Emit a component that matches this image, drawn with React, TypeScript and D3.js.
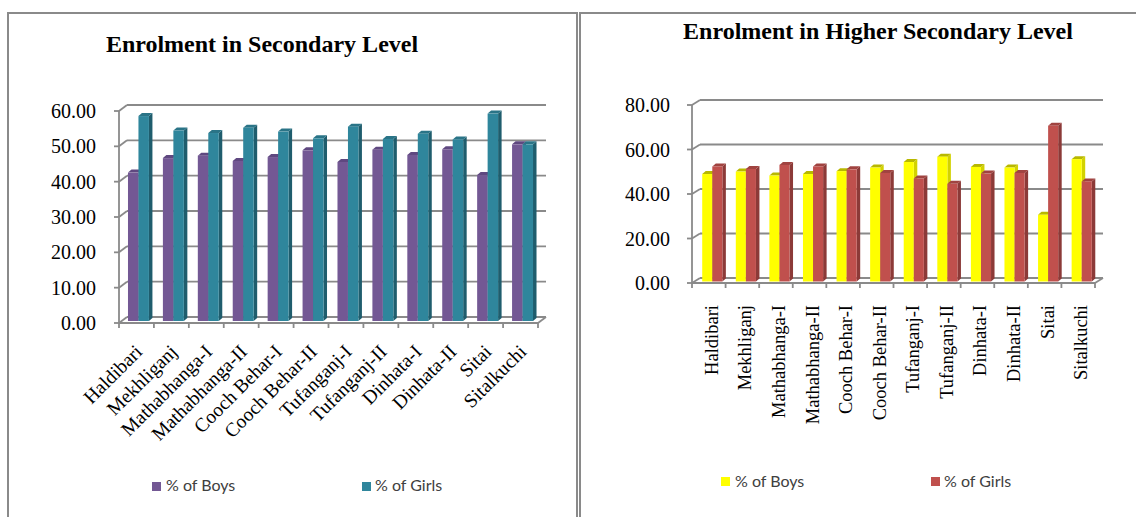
import React from "react";
import * as d3 from "d3";

const categories = [
  "Haldibari", "Mekhliganj", "Mathabhanga-I", "Mathabhanga-II", "Cooch Behar-I", "Cooch Behar-II",
  "Tufanganj-I", "Tufanganj-II", "Dinhata-I", "Dinhata-II", "Sitai", "Sitalkuchi",
];
const secondaryBoys = [42.0, 46.1, 46.8, 45.3, 46.4, 48.3, 45.0, 48.5, 47.0, 48.6, 41.3, 50.0];
const secondaryGirls = [58.0, 53.9, 53.2, 54.7, 53.6, 51.7, 55.0, 51.5, 53.0, 51.4, 58.7, 50.0];
const higherBoys = [48.3, 49.4, 47.6, 48.3, 49.6, 51.2, 53.7, 56.1, 51.5, 51.2, 30.0, 55.0];
const higherGirls = [51.7, 50.6, 52.4, 51.7, 50.4, 48.8, 46.3, 43.9, 48.5, 48.8, 70.0, 45.0];
const secondaryTicks = [0, 10, 20, 30, 40, 50, 60];
const higherTicks = [0, 20, 40, 60, 80];
const seriesNames = ["% of Boys", "% of Girls"];
const secondaryTitle = "Enrolment in Secondary Level";
const higherTitle = "Enrolment in Higher Secondary Level";

type Face = { front: string; side: string; top: string };

type Cfg = {
  x0: number; x1: number; yb0: number; ybTop: number; max: number; dx: number; dy: number;
  barShift: number; labelRight: number; titleX: number; titleY: number;
  rotate: number; labelDx: number; labelY: number; labelSize: number;
  legend: { sq: number[]; tx: number[]; sqY: number; txY: number };
};

const GRID = "#8a8a8a";
const SERIF = "'Liberation Serif', 'Times New Roman', serif";
const SANS = "Lato, 'Liberation Sans', sans-serif";

function Bar({ x, w, t, b, c }: { x: number; w: number; t: number; b: number; c: Face }) {
  const bx = 3.5, by = -3;
  return (
    <g>
      <polygon points={`${x + w},${t} ${x + w + bx},${t + by} ${x + w + bx},${b + by} ${x + w},${b}`} fill={c.side} />
      <polygon points={`${x},${t} ${x + bx},${t + by} ${x + w + bx},${t + by} ${x + w},${t}`} fill={c.top} />
      <rect x={x} y={t} width={w} height={Math.max(0, b - t)} fill={c.front} />
    </g>
  );
}

function Chart3D({ cfg, boys, girls, ticks, title, faces }: {
  cfg: Cfg; boys: number[]; girls: number[]; ticks: number[]; title: string; faces: Face[];
}) {
  const x = d3.scaleBand<string>().domain(categories).range([cfg.x0, cfg.x1]).paddingInner(0).paddingOuter(0);
  const yB = d3.scaleLinear().domain([0, cfg.max]).range([cfg.yb0, cfg.ybTop]);
  const yF = (v: number) => yB(v) + cfg.dy;
  const bw = x.bandwidth();
  const barW = bw * 0.3;
  const barBase = yB(0) + cfg.dy / 2 + 1;
  const barY = (v: number) => yB(v) + cfg.dy / 2 + 1;
  const fmt = d3.format(".2f");
  return (
    <g>
      <text x={cfg.titleX} y={cfg.titleY} textAnchor="middle" fontFamily={SERIF} fontWeight="bold" fontSize={24} fill="#000">{title}</text>
      {ticks.map((v) => (
        <g key={"g" + v}>
          <line x1={cfg.x0} y1={yF(v)} x2={cfg.x0 + cfg.dx} y2={yB(v)} stroke={GRID} strokeWidth={1.8} />
          <line x1={cfg.x0 + cfg.dx} y1={yB(v)} x2={cfg.x1 + cfg.dx} y2={yB(v)} stroke={GRID} strokeWidth={1.8} />
          <line x1={cfg.x0 - 5} y1={yF(v)} x2={cfg.x0} y2={yF(v)} stroke={GRID} strokeWidth={1.8} />
          <text x={cfg.labelRight} y={yF(v)} dy="0.35em" textAnchor="end" fontFamily={SERIF} fontSize={20} fill="#000">{fmt(v)}</text>
        </g>
      ))}
      <line x1={cfg.x0} y1={yF(0)} x2={cfg.x0} y2={yF(cfg.max)} stroke={GRID} strokeWidth={1.8} />
      <line x1={cfg.x0} y1={yF(0)} x2={cfg.x1} y2={yF(0)} stroke={GRID} strokeWidth={1.8} />
      <line x1={cfg.x1} y1={yF(0)} x2={cfg.x1 + cfg.dx} y2={yB(0)} stroke={GRID} strokeWidth={1.8} />
      {d3.range(categories.length + 1).map((i) => (
        <line key={"t" + i} x1={cfg.x0 + i * bw} y1={yF(0)} x2={cfg.x0 + i * bw} y2={yF(0) + 5} stroke={GRID} strokeWidth={1.8} />
      ))}
      {categories.map((c, i) => {
        const cx = (x(c) as number) + bw / 2 + cfg.barShift;
        return (
          <g key={"b" + c}>
            <Bar x={cx - barW} w={barW} t={barY(boys[i])} b={barBase} c={faces[0]} />
            <Bar x={cx} w={barW} t={barY(girls[i])} b={barBase} c={faces[1]} />
          </g>
        );
      })}
      {categories.map((c) => {
        const ax = (x(c) as number) + bw / 2 + cfg.labelDx;
        return (
          <text key={"l" + c} x={ax} y={cfg.labelY} transform={`rotate(${cfg.rotate},${ax},${cfg.labelY})`}
            textAnchor="end" fontFamily={SERIF} fontSize={cfg.labelSize} fill="#000">{c}</text>
        );
      })}
      {seriesNames.map((s, i) => (
        <g key={"lg" + s}>
          <rect x={cfg.legend.sq[i]} y={cfg.legend.sqY} width={9} height={9} fill={faces[i].front} />
          <text x={cfg.legend.tx[i]} y={cfg.legend.txY} fontFamily={SANS} fontSize={16} fill="#404040">{s}</text>
        </g>
      ))}
    </g>
  );
}

const leftCfg: Cfg = {
  x0: 119, x1: 538, yb0: 317, ybTop: 105, max: 60, dx: 8, dy: 6, barShift: 2,
  labelRight: 96, titleX: 262, titleY: 52, rotate: -45, labelDx: 7, labelY: 353, labelSize: 19.5,
  legend: { sq: [152, 362], tx: [166, 375], sqY: 482, txY: 491 },
};
const rightCfg: Cfg = {
  x0: 692, x1: 1095, yb0: 278, ybTop: 100, max: 80, dx: 8, dy: 5, barShift: 3.5,
  labelRight: 670, titleX: 878, titleY: 39, rotate: -90, labelDx: 9, labelY: 305, labelSize: 18.5,
  legend: { sq: [721, 931], tx: [735, 944], sqY: 477, txY: 487 },
};

const leftFaces: Face[] = [
  { front: "#735894", side: "#55406f", top: "#5f4880" },
  { front: "#2f869c", side: "#1f5d6d", top: "#2a7487" },
];
const rightFaces: Face[] = [
  { front: "#ffff00", side: "#d2d200", top: "#b8b800" },
  { front: "#c0504d", side: "#8c3a38", top: "#a04340" },
];

export default function App() {
  return (
    <svg width={1136} height={517} style={{ position: "absolute", left: 0, top: 0, background: "#fff" }}>
      <rect x={0} y={0} width={1136} height={517} fill="#fff" />
      <path d="M8,530 L8,13 L577,13 L577,530" fill="none" stroke={GRID} strokeWidth={2} />
      <path d="M580,530 L580,13 L1140,13" fill="none" stroke={GRID} strokeWidth={2} />
      <Chart3D cfg={leftCfg} boys={secondaryBoys} girls={secondaryGirls} ticks={secondaryTicks} title={secondaryTitle} faces={leftFaces} />
      <Chart3D cfg={rightCfg} boys={higherBoys} girls={higherGirls} ticks={higherTicks} title={higherTitle} faces={rightFaces} />
    </svg>
  );
}
